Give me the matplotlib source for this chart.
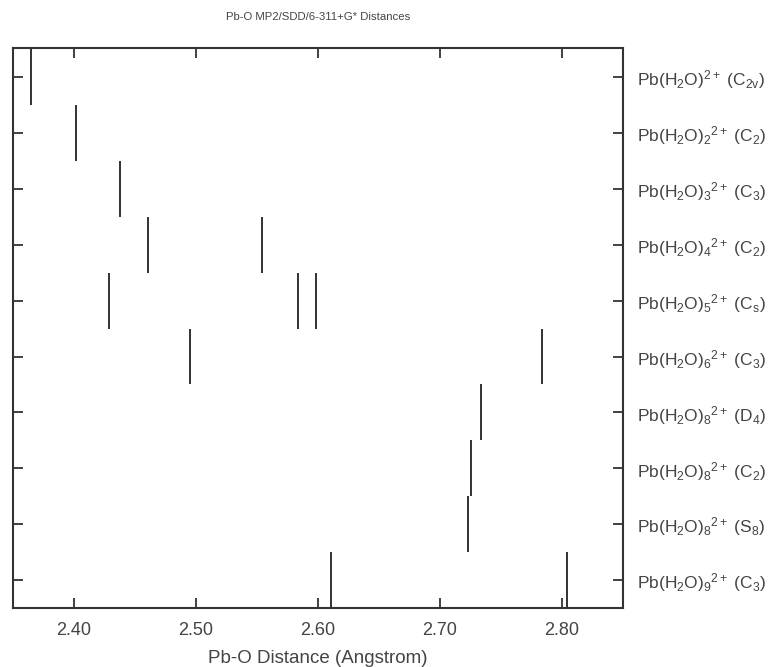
import matplotlib
matplotlib.use("Agg")
import matplotlib.pyplot as plt

plt.rcParams['font.family'] = ['Liberation Sans', 'DejaVu Sans']
plt.rcParams['mathtext.fontset'] = 'custom'
plt.rcParams['mathtext.rm'] = 'Liberation Sans'
plt.rcParams['mathtext.it'] = 'Liberation Sans'
plt.rcParams['mathtext.bf'] = 'Liberation Sans'

# Pb-O distances per structure (Angstrom), top row first
structures = [
    r'Pb(H$_2$O)$^{2+}$ (C$_{2v}$)',
    r'Pb(H$_2$O)$_2$$^{2+}$ (C$_2$)',
    r'Pb(H$_2$O)$_3$$^{2+}$ (C$_3$)',
    r'Pb(H$_2$O)$_4$$^{2+}$ (C$_2$)',
    r'Pb(H$_2$O)$_5$$^{2+}$ (C$_s$)',
    r'Pb(H$_2$O)$_6$$^{2+}$ (C$_3$)',
    r'Pb(H$_2$O)$_8$$^{2+}$ (D$_4$)',
    r'Pb(H$_2$O)$_8$$^{2+}$ (C$_2$)',
    r'Pb(H$_2$O)$_8$$^{2+}$ (S$_8$)',
    r'Pb(H$_2$O)$_9$$^{2+}$ (C$_3$)',
]
distances = [
    [2.365],
    [2.402],
    [2.438],
    [2.461, 2.554],
    [2.429, 2.584, 2.598],
    [2.495, 2.784],
    [2.734],
    [2.725],
    [2.723],
    [2.611, 2.804],
]
xticks = [2.40, 2.50, 2.60, 2.70, 2.80]

fig = plt.figure(figsize=(7.8, 6.67), dpi=100)
ax = fig.add_axes([13/780, 1 - 608/667, (623 - 13)/780, (608 - 48)/667])

for i, row in enumerate(distances):
    pos = i + 1
    ax.vlines(row, pos - 0.5, pos + 0.5, color='#222222', linewidth=1.3)

ax.set_xlim(2.35, 2.85)
ax.set_ylim(10.5, 0.48)
ax.set_xticks(xticks)
ax.set_xticklabels(['%.2f' % v for v in xticks], fontsize=13, color='#444444')
ax.set_yticks(range(1, len(structures) + 1))
ax.set_yticklabels(structures, fontsize=12.5, color='#444444')
ax.yaxis.tick_right()
ax.tick_params(axis='y', which='both', left=True, right=True, direction='in',
               length=7, width=1.3, color='#333333', pad=10)
ax.tick_params(axis='x', which='both', top=True, bottom=True, direction='in',
               length=7, width=1.3, color='#333333', pad=10)
for s in ax.spines.values():
    s.set_linewidth(1.5)
    s.set_color('#333333')

ax.set_xlabel('Pb-O Distance (Angstrom)', fontsize=13.5, color='#444444', labelpad=8)
ax.set_title('Pb-O MP2/SDD/6-311+G* Distances', fontsize=8.2, color='#444444', pad=20)

fig.savefig('out.png', dpi=100)
